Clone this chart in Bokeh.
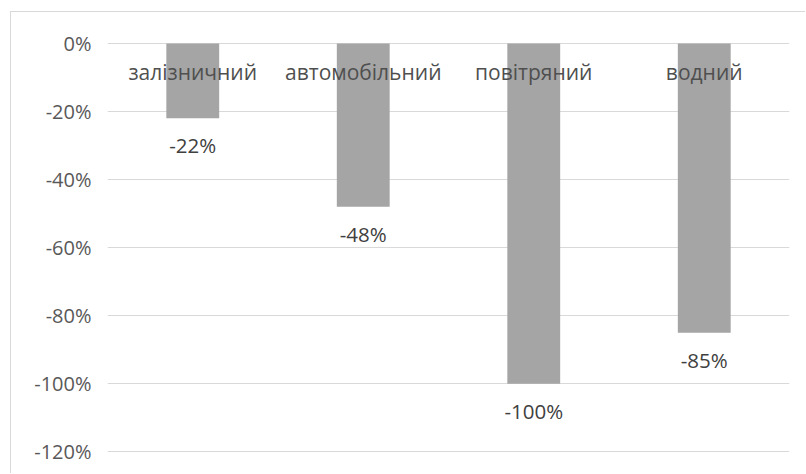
from bokeh.plotting import figure
from bokeh.models import ColumnDataSource, LabelSet, FixedTicker, NumeralTickFormatter
from bokeh.core.properties import value
from bokeh.embed import file_html
from bokeh.resources import INLINE

# Change by type of transport
categories = ["залізничний", "автомобільний", "повітряний", "водний"]
changes = [-0.22, -0.48, -1.00, -0.85]
y_ticks = [0.0, -0.2, -0.4, -0.6, -0.8, -1.0, -1.2]

FONT = "Open Sans"

source = ColumnDataSource(data=dict(
    cat=categories,
    val=changes,
    zero=[0.0] * len(categories),
    label=[f"{v:.0%}" for v in changes],
))

p = figure(
    x_range=categories, y_range=(-1.205, 0.003),
    width=795, height=462,
    min_border_left=96, min_border_right=17,
    min_border_top=30, min_border_bottom=21,
    output_backend="svg", toolbar_location=None,
)
# chart area border on the left and top, page offset like a framed chart
p.margin = (0, 0, 0, 0)
p.styles = {"position": "absolute", "left": "10px", "top": "11px",
            "border-left": "1px solid #d9d9d9", "border-top": "1px solid #d9d9d9"}

p.vbar(x="cat", top="zero", bottom="val", width=0.31, source=source,
       fill_color="#a5a5a5", line_color=None)

# category names sit just under the zero line, over the bars
p.add_layout(LabelSet(x="cat", y="zero", text="cat", source=source,
                      y_offset=-28, text_align="center", text_baseline="middle",
                      text_font=value(FONT), text_font_size="21px",
                      text_color="#4f4f4f"))

# value labels below each bar end
p.add_layout(LabelSet(x="cat", y="val", text="label", source=source,
                      y_offset=-27, text_align="center", text_baseline="middle",
                      text_font=value(FONT), text_font_size="20.5px",
                      text_color="#404040"))

p.xaxis.visible = False
p.xgrid.grid_line_color = None

p.yaxis.ticker = FixedTicker(ticks=y_ticks)
p.yaxis.formatter = NumeralTickFormatter(format="0%")
p.yaxis.axis_line_color = None
p.yaxis.major_tick_line_color = None
p.yaxis.minor_tick_line_color = None
p.yaxis.major_label_standoff = 10
p.yaxis.major_label_text_font = FONT
p.yaxis.major_label_text_font_size = "20px"
p.yaxis.major_label_text_color = "#595959"

p.ygrid.ticker = FixedTicker(ticks=y_ticks)
p.ygrid.grid_line_color = "#d9d9d9"
p.ygrid.grid_line_width = 1

p.outline_line_color = None
p.background_fill_color = "white"
p.border_fill_color = "white"

open("out.html", "w").write(file_html(p, INLINE))
